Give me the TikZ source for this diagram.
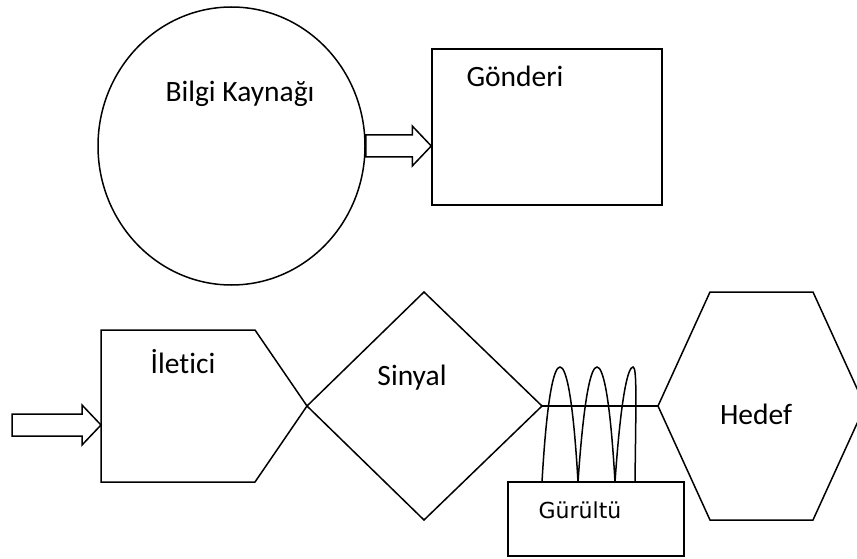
\documentclass[tikz,border=0pt]{standalone}
\usepackage{fontspec}
\setmainfont{Carlito}[Ligatures=NoCommon]
\newfontfamily\noiseFont{DejaVu Sans}
\usetikzlibrary{calc, shapes.geometric}
\newcommand*{\lineW}{1.5pt}
\newcommand*{\blockArrow}[2]{% tail, tip (left to right)
    \draw [black, line width=\lineW] ($(#1)+(0,-11)$) -- ($(#2)+(-19,-11)$) -- ($(#2)+(-19,-20)$) -- (#2)
        -- ($(#2)+(-19,20)$) -- ($(#2)+(-19,11)$) -- ($(#1)+(0,11)$) -- cycle;
}
\newcommand*{\lbl}[4]{\node (#1) [anchor=base, inner sep=0] at (#2,#3) {#4};} % name, x, baseline, text

\begin{document}
\begin{tikzpicture}[x=1pt, y=-1pt, font=\fontsize{29.5}{34}\selectfont, line width=\lineW] {
\useasboundingbox (0,0) rectangle (857,559);
\clip (0,0) rectangle (857,559);
% upper row
\node (kaynak) [ellipse, draw, inner sep=0, minimum width=267pt, minimum height=278pt] at (231.5,146) {};
\node (gonderi) [rectangle, draw, inner sep=0, minimum width=230pt, minimum height=156pt] at (547,127) {};
\coordinate (gonderiIn) at (gonderi.west |- kaynak.east);
\blockArrow{kaynak.east}{gonderiIn}
% lower row
\draw (101,330) -- (255,330) -- (307,406) coordinate (iletE) -- (255,482) -- (101,482) -- cycle;
\coordinate (src) at (12,425);
\coordinate (iletIn) at (101,425);
\blockArrow{src}{iletIn}
\draw (iletE) -- (424,292) -- (542,406) coordinate (sinE) -- (424,520) -- cycle;
\draw (658,406) coordinate (hedefW) -- (710,292) -- (813,292) -- (865,406) -- (813,520) -- (710,520) -- cycle;
\draw (sinE) -- (hedefW);
\node (gurultu) [rectangle, draw, inner sep=0, minimum width=176pt, minimum height=74pt] at (596,519) {};
% noise coil
\draw (542,482) .. controls (547,395) and (554,367) .. (560,367) .. controls (566,367) and (573,395) .. (578,482)
    .. controls (584,395) and (591,367) .. (597,367) .. controls (603,367) and (610,395) .. (615,482)
    .. controls (621,395) and (628,367) .. (633,367) .. controls (637,367) and (636,400) .. (635,482);
% texts
\lbl{kaynakT}{240}{102}{Bilgi Kaynağı}
\lbl{gonderiT}{515}{87}{Gönderi}
\lbl{iletT}{183}{373}{İletici}
\lbl{sinT}{412}{385}{Sinyal}
\lbl{hedefT}{756}{424}{Hedef}
\lbl{gurT}{580}{518}{\noiseFont\fontsize{22}{26}\selectfont Gürültü}
}\end{tikzpicture}
\end{document}
